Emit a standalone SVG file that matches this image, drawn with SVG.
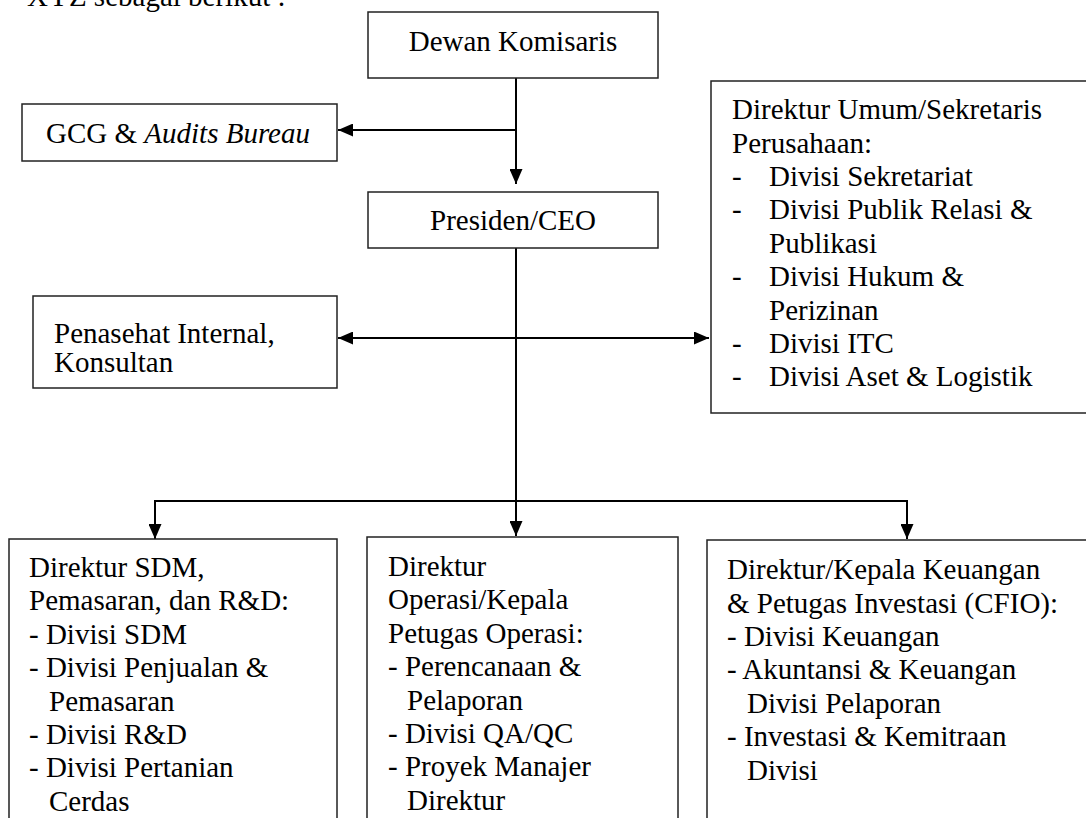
<svg xmlns="http://www.w3.org/2000/svg" width="1086" height="818" viewBox="0 0 1086 818" font-family="'Liberation Serif', 'Times New Roman', 'DejaVu Serif', serif">
<defs>
<marker id="arr" markerUnits="userSpaceOnUse" markerWidth="15" markerHeight="13" refX="15" refY="6.5" orient="auto">
<path d="M0,0 L15,6.5 L0,13 z" fill="#000"/>
</marker>
<marker id="arrs" markerUnits="userSpaceOnUse" markerWidth="15" markerHeight="13" refX="0" refY="6.5" orient="auto">
<path d="M15,0 L0,6.5 L15,13 z" fill="#000"/>
</marker>
<style>
.box{fill:#fff;stroke:#222;stroke-width:1.5}
.t{font-family:'Liberation Serif', 'Times New Roman', 'DejaVu Serif', serif;font-size:29px;fill:#000}
.c{stroke:#000;stroke-width:2;fill:none}
</style>
</defs>
<rect width="1086" height="818" fill="#fff"/>
<text class="t" x="27" y="6" font-family="Liberation Serif">XYZ sebagai berikut :</text>
<g id="connectors">
<line class="c" x1="516" y1="78" x2="516" y2="184" marker-end="url(#arr)"/>
<line class="c" x1="516" y1="130" x2="338" y2="130" marker-end="url(#arr)"/>
<line class="c" x1="516" y1="248" x2="516" y2="536" marker-end="url(#arr)"/>
<line class="c" x1="338" y1="338" x2="709" y2="338" marker-start="url(#arrs)" marker-end="url(#arr)"/>
<line class="c" x1="155" y1="501" x2="907" y2="501"/>
<line class="c" x1="155" y1="500" x2="155" y2="539" marker-end="url(#arr)"/>
<line class="c" x1="907" y1="500" x2="907" y2="539" marker-end="url(#arr)"/>
</g>
<g id="dewan" font-family="Liberation Serif">
<rect class="box" x="368" y="12" width="290" height="66"/>
<text class="t" x="513" y="51" text-anchor="middle">Dewan Komisaris</text>
</g>
<g id="gcg" font-family="Liberation Serif">
<rect class="box" x="22" y="104" width="315" height="57"/>
<text class="t" x="46" y="143">GCG &amp; <tspan font-style="italic">Audits Bureau</tspan></text>
</g>
<g id="presiden" font-family="Liberation Serif">
<rect class="box" x="368" y="192" width="290" height="56"/>
<text class="t" x="513" y="230" text-anchor="middle">Presiden/CEO</text>
</g>
<g id="penasehat" font-family="Liberation Serif">
<rect class="box" x="33" y="296" width="304" height="92"/>
<text class="t" x="54" y="343">Penasehat Internal,</text>
<text class="t" x="54" y="372">Konsultan</text>
</g>
<g id="direktur-umum" font-family="Liberation Serif">
<rect class="box" x="711" y="81" width="380" height="332"/>
<text class="t" x="732" y="119">Direktur Umum/Sekretaris</text>
<text class="t" x="732" y="153">Perusahaan:</text>
<text class="t" x="732" y="186">-</text><text class="t" x="769" y="186">Divisi Sekretariat</text>
<text class="t" x="732" y="219">-</text><text class="t" x="769" y="219">Divisi Publik Relasi &amp;</text>
<text class="t" x="769" y="253">Publikasi</text>
<text class="t" x="732" y="286">-</text><text class="t" x="769" y="286">Divisi Hukum &amp;</text>
<text class="t" x="769" y="320">Perizinan</text>
<text class="t" x="732" y="353">-</text><text class="t" x="769" y="353">Divisi ITC</text>
<text class="t" x="732" y="386">-</text><text class="t" x="769" y="386">Divisi Aset &amp; Logistik</text>
</g>
<g id="direktur-sdm" font-family="Liberation Serif">
<rect class="box" x="9" y="539" width="328" height="300"/>
<text class="t" x="29" y="577">Direktur SDM,</text>
<text class="t" x="29" y="610">Pemasaran, dan R&amp;D:</text>
<text class="t" x="29" y="644">- Divisi SDM</text>
<text class="t" x="29" y="677">- Divisi Penjualan &amp;</text>
<text class="t" x="49" y="711">Pemasaran</text>
<text class="t" x="29" y="744">- Divisi R&amp;D</text>
<text class="t" x="29" y="777">- Divisi Pertanian</text>
<text class="t" x="49" y="811">Cerdas</text>
</g>
<g id="direktur-operasi" font-family="Liberation Serif">
<rect class="box" x="367" y="537" width="311" height="300"/>
<text class="t" x="388" y="576">Direktur</text>
<text class="t" x="388" y="609">Operasi/Kepala</text>
<text class="t" x="388" y="643">Petugas Operasi:</text>
<text class="t" x="388" y="676">- Perencanaan &amp;</text>
<text class="t" x="407" y="710">Pelaporan</text>
<text class="t" x="388" y="743">- Divisi QA/QC</text>
<text class="t" x="388" y="776">- Proyek Manajer</text>
<text class="t" x="407" y="810">Direktur</text>
</g>
<g id="direktur-keuangan" font-family="Liberation Serif">
<rect class="box" x="707" y="540" width="385" height="300"/>
<text class="t" x="727" y="579">Direktur/Kepala Keuangan</text>
<text class="t" x="727" y="613">&amp; Petugas Investasi (CFIO):</text>
<text class="t" x="727" y="646">- Divisi Keuangan</text>
<text class="t" x="727" y="679">- Akuntansi &amp; Keuangan</text>
<text class="t" x="747" y="713">Divisi Pelaporan</text>
<text class="t" x="727" y="746">- Investasi &amp; Kemitraan</text>
<text class="t" x="747" y="780">Divisi</text>
</g>
</svg>
